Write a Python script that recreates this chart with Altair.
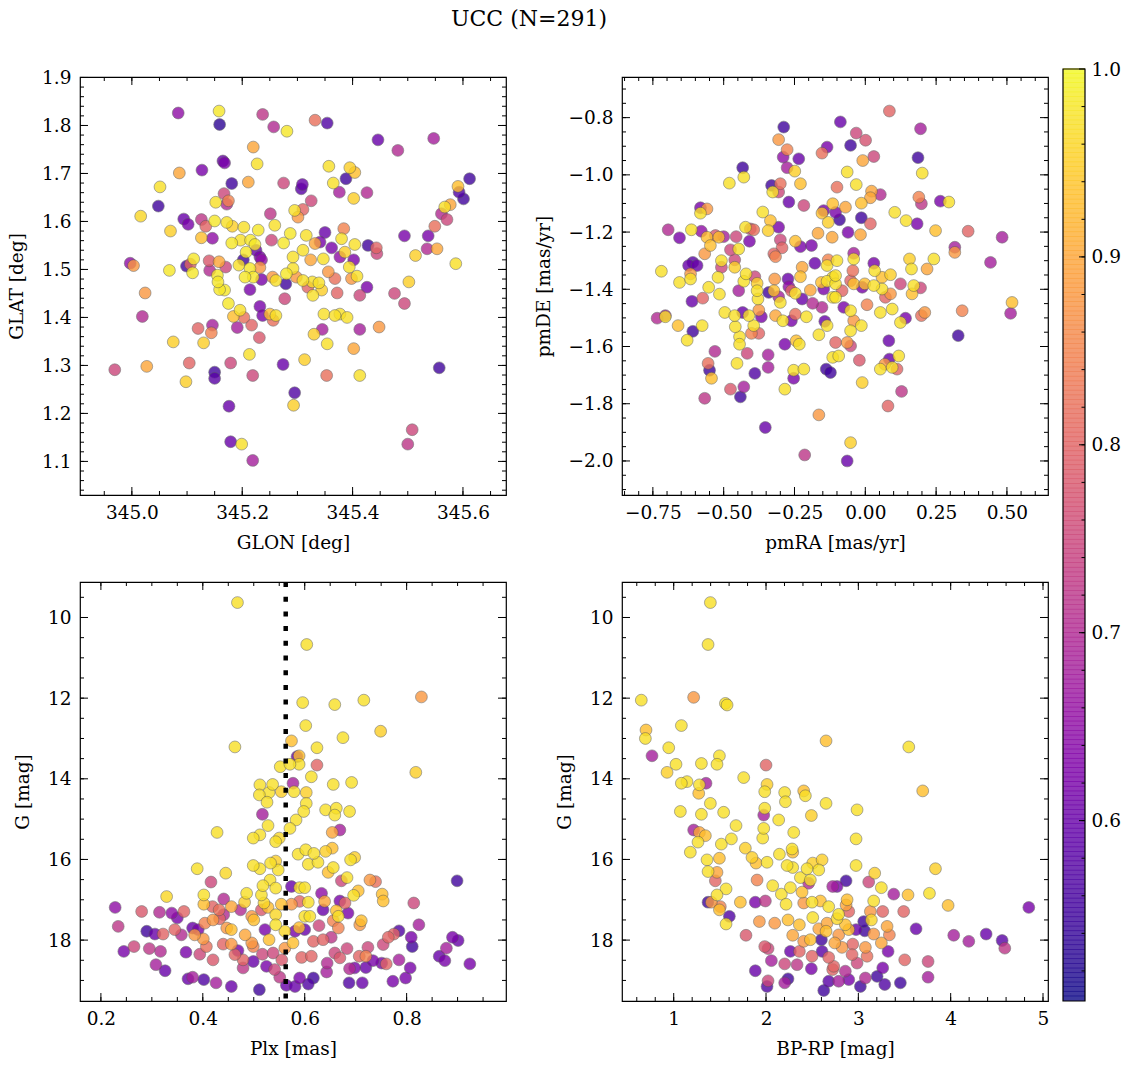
import altair as alt
import pandas as pd
import numpy as np

FONT = "DejaVu Serif"
CMIN, CMAX = 0.504, 1.0
PW = 426            # panel plot width
H_TOP, H_BOT = 418, 419
CB_GAP, CB_W = 15, 22
CB_TOP, CB_BOT = -8, 924   # colorbar extent relative to the top-right panel's plot area
MAJ, MIN = 8, 4     # tick lengths

# ---------------- data: (x, y, membership probability) per panel ----------------
# Top-left: GLON [deg], GLAT [deg]
tl_points = [
(345.084,1.826,0.65),(345.158,1.830,0.98),(345.159,1.802,0.53),(345.237,1.823,0.72),(345.257,1.797,0.70),
(345.281,1.788,0.98),(345.220,1.755,0.90),(345.227,1.720,0.97),(345.165,1.726,0.60),(345.168,1.722,0.62),
(345.086,1.701,0.90),(345.127,1.707,0.62),(345.211,1.682,0.90),(345.275,1.680,0.75),(345.051,1.672,0.97),
(345.181,1.679,0.55),(345.167,1.658,0.75),(345.175,1.643,0.85),(345.152,1.640,0.97),(345.172,1.636,0.70),
(345.048,1.632,0.55),(345.016,1.611,0.96),(345.094,1.605,0.60),(345.102,1.594,0.62),(345.126,1.604,0.72),
(345.134,1.590,0.80),(345.150,1.601,0.98),(345.172,1.598,0.97),(345.182,1.590,0.95),(345.070,1.580,0.95),
(345.126,1.566,0.93),(345.146,1.565,0.65),(345.203,1.588,0.97),(345.229,1.582,0.98),(345.251,1.616,0.72),
(345.259,1.592,0.97),(345.181,1.555,0.98),(345.197,1.561,0.97),(345.215,1.561,0.98),(345.223,1.552,0.98),
(345.207,1.536,0.98),(345.225,1.540,0.60),(345.232,1.526,0.62),(345.253,1.561,0.75),(345.275,1.555,0.98),
(345.287,1.575,0.98),(344.997,1.513,0.65),(345.003,1.508,0.88),(345.112,1.522,0.98),(345.099,1.507,0.55),
(345.106,1.511,0.80),(345.110,1.493,0.98),(345.068,1.498,0.98),(345.140,1.518,0.78),(345.141,1.498,0.70),
(345.158,1.516,0.90),(345.170,1.505,0.75),(345.155,1.488,0.98),(345.156,1.474,0.98),(345.159,1.458,0.98),
(345.168,1.457,0.98),(345.202,1.520,0.55),(345.194,1.509,0.97),(345.214,1.502,0.98),(345.232,1.504,0.88),
(345.235,1.520,0.65),(345.205,1.484,0.98),(345.220,1.484,0.98),(345.235,1.479,0.62),(345.214,1.458,0.62),
(345.255,1.484,0.88),(345.261,1.477,0.97),(345.280,1.491,0.98),(345.279,1.470,0.55),(345.277,1.439,0.75),
(345.175,1.429,0.98),(345.196,1.415,0.97),(345.184,1.402,0.93),(345.203,1.400,0.82),(345.217,1.384,0.80),
(345.232,1.423,0.62),(345.237,1.404,0.62),(345.250,1.407,0.93),(345.261,1.404,0.97),(345.256,1.394,0.82),
(345.191,1.379,0.68),(345.146,1.384,0.68),(345.144,1.368,0.85),(345.120,1.377,0.80),(345.019,1.402,0.70),
(345.024,1.451,0.88),(345.075,1.349,0.95),(345.130,1.347,0.95),(345.231,1.358,0.78),(345.213,1.323,0.97),
(344.969,1.291,0.75),(345.027,1.298,0.90),(345.104,1.305,0.80),(345.179,1.305,0.75),(345.150,1.286,0.55),
(345.150,1.273,0.58),(345.219,1.279,0.75),(345.274,1.302,0.60),(345.098,1.266,0.95),(345.176,1.215,0.60),
(345.179,1.141,0.60),(345.199,1.136,0.97),(345.219,1.102,0.68),
(345.332,1.811,0.82),(345.354,1.805,0.57),(345.446,1.770,0.60),(345.482,1.748,0.70),(345.547,1.773,0.68),
(345.357,1.715,0.97),(345.395,1.712,0.95),(345.404,1.702,0.93),(345.388,1.689,0.55),(345.365,1.680,0.97),
(345.376,1.661,0.68),(345.402,1.648,0.95),(345.426,1.660,0.70),(345.309,1.677,0.60),(345.307,1.668,0.58),
(345.325,1.643,0.75),(345.295,1.623,0.97),(345.310,1.625,0.80),(345.301,1.609,0.88),(345.316,1.571,0.97),
(345.350,1.577,0.60),(345.341,1.557,0.62),(345.332,1.554,0.90),(345.384,1.585,0.85),(345.380,1.564,0.97),
(345.404,1.552,0.97),(345.428,1.550,0.55),(345.443,1.545,0.80),(345.444,1.533,0.75),(345.494,1.570,0.62),
(345.537,1.570,0.62),(345.535,1.543,0.70),(345.553,1.543,0.90),(345.514,1.529,0.95),(345.549,1.590,0.82),
(345.561,1.616,0.70),(345.571,1.604,0.75),(345.567,1.630,0.97),(345.577,1.635,0.90),(345.591,1.673,0.93),
(345.593,1.661,0.57),(345.612,1.689,0.55),(345.601,1.647,0.55),(345.587,1.512,0.97),(345.502,1.474,0.95),
(345.476,1.450,0.75),(345.494,1.429,0.75),(345.426,1.463,0.62),(345.413,1.446,0.75),(345.372,1.451,0.80),
(345.368,1.481,0.82),(345.356,1.495,0.88),(345.398,1.481,0.88),(345.394,1.505,0.97),(345.408,1.486,0.97),
(345.386,1.536,0.95),(345.377,1.526,0.65),(345.402,1.520,0.62),(345.362,1.545,0.62),(345.347,1.522,0.97),
(345.324,1.520,0.90),(345.310,1.540,0.97),(345.292,1.526,0.97),(345.292,1.502,0.97),(345.310,1.477,0.97),
(345.327,1.474,0.97),(345.339,1.472,0.97),(345.328,1.446,0.97),(345.344,1.457,0.95),(345.298,1.484,0.88),
(345.319,1.463,0.80),(345.348,1.407,0.97),(345.368,1.404,0.97),(345.377,1.407,0.97),(345.390,1.400,0.97),
(345.345,1.375,0.68),(345.330,1.365,0.95),(345.354,1.345,0.97),(345.413,1.375,0.68),(345.448,1.380,0.88),
(345.402,1.335,0.90),(345.313,1.312,0.95),(345.353,1.279,0.82),(345.413,1.279,0.97),(345.557,1.295,0.55),
(345.295,1.243,0.57),(345.293,1.217,0.95),(345.508,1.166,0.75),(345.500,1.136,0.72),
]

# Top-right: pmRA, pmDE [mas/yr]
tr_points = [
(-0.288,-0.833,0.55),(-0.306,-0.877,0.88),(-0.276,-0.912,0.85),(-0.290,-0.938,0.65),(-0.235,-0.944,0.60),
(-0.276,-0.975,0.68),(-0.249,-0.987,0.95),(-0.135,-0.903,0.62),(-0.153,-0.924,0.82),(-0.433,-0.975,0.55),
(-0.429,-1.008,0.97),(-0.480,-1.029,0.97),(-0.331,-1.037,0.55),(-0.300,-1.031,0.82),(-0.327,-1.060,0.97),
(-0.306,-1.060,0.75),(-0.229,-1.031,0.93),(-0.270,-1.095,0.60),(-0.217,-1.107,0.75),(-0.582,-1.115,0.62),
(-0.559,-1.119,0.88),(-0.582,-1.134,0.97),(-0.362,-1.130,0.97),(-0.335,-1.160,0.93),(-0.306,-1.183,0.62),
(-0.343,-1.195,0.95),(-0.406,-1.189,0.75),(-0.394,-1.192,0.82),(-0.423,-1.183,0.97),(-0.696,-1.192,0.70),
(-0.656,-1.220,0.62),(-0.614,-1.192,0.97),(-0.579,-1.197,0.65),(-0.559,-1.218,0.93),(-0.529,-1.212,0.78),
(-0.517,-1.218,0.93),(-0.500,-1.216,0.68),(-0.547,-1.247,0.93),(-0.567,-1.276,0.88),(-0.476,-1.262,0.75),
(-0.456,-1.216,0.75),(-0.409,-1.232,0.62),(-0.447,-1.259,0.97),(-0.300,-1.227,0.75),(-0.294,-1.255,0.80),
(-0.247,-1.232,0.93),(-0.229,-1.251,0.62),(-0.190,-1.247,0.62),(-0.167,-1.204,0.90),(-0.147,-1.125,0.62),
(-0.153,-1.134,0.93),(-0.131,-1.166,0.95),(-0.115,-1.101,0.93),(-0.117,-1.218,0.90),(-0.323,-1.276,0.80),
(-0.317,-1.286,0.85),(-0.178,-1.309,0.60),(-0.131,-1.297,0.85),(-0.135,-1.317,0.97),(-0.223,-1.323,0.90),
(-0.229,-1.356,0.93),(-0.320,-1.364,0.88),(-0.323,-1.405,0.93),(-0.341,-1.411,0.55),(-0.273,-1.364,0.60),
(-0.270,-1.391,0.65),(-0.247,-1.414,0.97),(-0.261,-1.405,0.80),(-0.194,-1.403,0.90),(-0.147,-1.399,0.62),
(-0.155,-1.376,0.93),(-0.135,-1.372,0.97),(-0.115,-1.358,0.97),(-0.115,-1.428,0.97),(-0.186,-1.449,0.70),
(-0.223,-1.434,0.60),(-0.153,-1.463,0.70),(-0.300,-1.446,0.97),(-0.306,-1.426,0.68),(-0.247,-1.487,0.82),
(-0.208,-1.496,0.97),(-0.261,-1.510,0.62),(-0.291,-1.510,0.97),(-0.317,-1.492,0.90),(-0.376,-1.473,0.88),
(-0.379,-1.434,0.97),(-0.382,-1.405,0.97),(-0.382,-1.379,0.95),(-0.390,-1.356,0.75),(-0.421,-1.346,0.97),
(-0.429,-1.372,0.97),(-0.447,-1.405,0.68),(-0.461,-1.323,0.95),(-0.461,-1.297,0.75),(-0.508,-1.300,0.97),
(-0.508,-1.323,0.75),(-0.520,-1.358,0.97),(-0.515,-1.417,0.97),(-0.553,-1.393,0.97),(-0.574,-1.431,0.80),
(-0.612,-1.442,0.60),(-0.624,-1.317,0.60),(-0.609,-1.306,0.58),(-0.594,-1.317,0.60),(-0.617,-1.346,0.88),
(-0.617,-1.364,0.97),(-0.656,-1.376,0.97),(-0.720,-1.337,0.97),(-0.735,-1.501,0.70),(-0.706,-1.492,0.68),
(-0.706,-1.496,0.97),(-0.661,-1.527,0.93),(-0.609,-1.547,0.55),(-0.629,-1.578,0.97),(-0.576,-1.527,0.97),
(-0.496,-1.481,0.97),(-0.461,-1.492,0.97),(-0.433,-1.481,0.60),(-0.411,-1.492,0.97),(-0.367,-1.496,0.62),
(-0.459,-1.531,0.97),(-0.394,-1.527,0.97),(-0.402,-1.554,0.85),(-0.376,-1.554,0.80),(-0.444,-1.566,0.97),
(-0.444,-1.592,0.97),(-0.531,-1.617,0.70),(-0.555,-1.659,0.82),(-0.550,-1.683,0.55),(-0.543,-1.711,0.93),
(-0.417,-1.624,0.75),(-0.453,-1.659,0.97),(-0.390,-1.694,0.57),(-0.343,-1.629,0.68),(-0.343,-1.673,0.68),
(-0.284,-1.592,0.62),(-0.244,-1.580,0.93),(-0.233,-1.592,0.97),(-0.253,-1.683,0.97),(-0.217,-1.679,0.97),
(-0.253,-1.711,0.62),(-0.138,-1.679,0.55),(-0.123,-1.691,0.55),(-0.115,-1.638,0.97),(-0.164,-1.559,0.97),
(-0.135,-1.527,0.97),(-0.143,-1.512,0.60),(-0.476,-1.749,0.78),(-0.429,-1.741,0.68),(-0.441,-1.776,0.55),
(-0.567,-1.781,0.72),(-0.284,-1.749,0.97),(-0.164,-1.839,0.88),(-0.353,-1.883,0.60),(-0.214,-1.979,0.72),
(0.085,-0.777,0.80),(-0.088,-0.815,0.60),(0.195,-0.839,0.68),(-0.032,-0.854,0.75),(0.001,-0.879,0.77),
(-0.052,-0.897,0.55),(0.030,-0.936,0.75),(-0.009,-0.950,0.90),(0.186,-0.940,0.55),(0.201,-0.994,0.97),
(-0.064,-0.990,0.97),(-0.032,-1.034,0.97),(-0.100,-1.043,0.82),(0.022,-1.057,0.90),(0.053,-1.069,0.70),
(0.018,-1.080,0.90),(-0.014,-1.099,0.93),(-0.070,-1.113,0.90),(-0.105,-1.131,0.62),(-0.091,-1.157,0.55),
(-0.014,-1.150,0.55),(0.018,-1.171,0.80),(-0.061,-1.201,0.62),(-0.017,-1.209,0.90),(0.104,-1.131,0.97),
(0.144,-1.160,0.97),(0.183,-1.171,0.62),(0.189,-1.078,0.85),(0.198,-1.101,0.72),(0.265,-1.092,0.62),
(0.295,-1.095,0.97),(0.248,-1.195,0.93),(0.363,-1.197,0.80),(0.483,-1.218,0.68),(0.316,-1.253,0.68),
(0.316,-1.271,0.88),(0.442,-1.306,0.68),(-0.041,-1.274,0.68),(-0.041,-1.294,0.97),(-0.100,-1.300,0.97),
(0.030,-1.309,0.62),(0.033,-1.335,0.97),(-0.044,-1.335,0.82),(-0.052,-1.370,0.80),(-0.041,-1.381,0.93),
(-0.105,-1.352,0.97),(-0.105,-1.381,0.97),(-0.082,-1.405,0.80),(-0.105,-1.428,0.97),(-0.011,-1.393,0.62),
(-0.002,-1.381,0.93),(0.030,-1.387,0.97),(0.059,-1.358,0.93),(0.059,-1.399,0.97),(0.089,-1.349,0.95),
(0.071,-1.428,0.80),(0.089,-1.416,0.88),(0.124,-1.381,0.75),(0.156,-1.294,0.95),(0.163,-1.329,0.97),
(0.218,-1.329,0.90),(0.242,-1.294,0.97),(0.171,-1.387,0.97),(0.195,-1.395,0.75),(0.165,-1.416,0.93),
(0.006,-1.454,0.85),(-0.076,-1.463,0.62),(-0.052,-1.475,0.97),(-0.041,-1.510,0.88),(-0.052,-1.545,0.97),
(-0.014,-1.527,0.97),(0.053,-1.481,0.97),(0.095,-1.469,0.97),(0.142,-1.501,0.62),(0.124,-1.516,0.97),
(0.198,-1.492,0.82),(0.210,-1.481,0.88),(0.342,-1.475,0.85),(0.518,-1.446,0.93),(0.513,-1.484,0.68),
(0.328,-1.562,0.55),(0.083,-1.580,0.60),(-0.105,-1.586,0.80),(-0.064,-1.586,0.88),(-0.052,-1.598,0.75),
(-0.094,-1.633,0.97),(-0.021,-1.648,0.78),(0.085,-1.644,0.60),(0.118,-1.633,0.97),(0.053,-1.679,0.97),
(0.069,-1.662,0.88),(0.095,-1.673,0.97),(0.112,-1.679,0.80),(-0.011,-1.726,0.95),(0.128,-1.757,0.72),
(0.080,-1.808,0.80),(-0.052,-1.936,0.95),(-0.064,-2.000,0.60),
]

# Bottom-left: Plx [mas], G [mag]
bl_points = [
(0.468,9.63,0.97),(0.463,13.21,0.97),(0.428,15.33,0.97),(0.552,13.70,0.97),(0.512,14.15,0.97),
(0.537,14.14,0.97),(0.511,14.40,0.97),(0.530,14.34,0.97),(0.526,14.58,0.97),(0.554,14.32,0.95),
(0.517,14.88,0.68),(0.528,15.16,0.97),(0.499,15.47,0.97),(0.512,15.39,0.97),(0.543,15.56,0.97),
(0.550,15.47,0.96),(0.499,16.15,0.97),(0.512,16.23,0.97),(0.533,16.09,0.97),(0.543,16.04,0.95),
(0.548,16.26,0.97),(0.532,16.51,0.97),(0.518,16.65,0.97),(0.543,16.71,0.97),(0.515,16.88,0.97),
(0.520,17.08,0.96),(0.528,17.19,0.93),(0.554,17.11,0.93),(0.389,16.23,0.97),(0.445,16.34,0.96),
(0.416,16.56,0.75),(0.329,16.92,0.96),(0.402,16.88,0.97),(0.402,17.11,0.93),(0.486,16.84,0.97),
(0.482,17.06,0.95),(0.441,16.98,0.70),(0.456,17.17,0.90),(0.474,17.25,0.70),(0.419,17.17,0.80),
(0.432,17.25,0.82),(0.228,17.19,0.65),(0.280,17.29,0.78),(0.315,17.31,0.70),(0.339,17.33,0.65),
(0.363,17.29,0.80),(0.350,17.45,0.62),(0.234,17.66,0.72),(0.290,17.78,0.55),(0.306,17.85,0.60),
(0.322,17.85,0.80),(0.345,17.74,0.80),(0.358,17.87,0.70),(0.380,17.70,0.60),(0.384,17.87,0.88),
(0.391,17.74,0.62),(0.404,17.58,0.85),(0.420,17.50,0.88),(0.441,17.37,0.70),(0.433,17.47,0.80),
(0.496,17.41,0.88),(0.500,17.50,0.93),(0.447,17.70,0.88),(0.456,17.74,0.93),(0.483,17.87,0.90),
(0.401,17.97,0.88),(0.407,18.16,0.82),(0.245,18.28,0.62),(0.265,18.16,0.75),(0.295,18.21,0.72),
(0.317,18.28,0.70),(0.367,18.30,0.62),(0.394,18.35,0.75),(0.420,18.49,0.78),(0.440,18.10,0.80),
(0.456,18.10,0.88),(0.469,18.26,0.62),(0.463,18.36,0.80),(0.496,18.07,0.88),(0.499,18.16,0.85),
(0.517,18.35,0.75),(0.308,18.61,0.68),(0.326,18.76,0.60),(0.371,18.96,0.60),(0.380,18.92,0.68),
(0.402,18.98,0.57),(0.426,19.06,0.68),(0.456,19.15,0.60),(0.479,18.69,0.72),(0.499,18.53,0.60),
(0.511,19.23,0.55),(0.525,18.65,0.62),(0.538,18.32,0.75),(0.541,18.73,0.75),(0.551,18.92,0.72),
(0.555,18.49,0.78),(0.522,17.74,0.62),(0.530,17.99,0.93),(0.543,17.62,0.97),(0.543,17.37,0.96),
(0.561,17.78,0.96),(0.561,18.20,0.88),(0.564,19.12,0.60),(0.479,18.49,0.80),(0.515,17.25,0.78),
(0.604,10.67,0.97),(0.596,12.11,0.97),(0.659,12.16,0.97),(0.716,12.05,0.97),(0.829,11.97,0.88),
(0.602,12.68,0.97),(0.749,12.82,0.95),(0.675,12.98,0.97),(0.574,13.06,0.93),(0.624,13.23,0.97),
(0.589,13.43,0.93),(0.585,13.45,0.60),(0.589,13.64,0.97),(0.571,13.64,0.97),(0.624,13.66,0.80),
(0.818,13.84,0.95),(0.613,13.95,0.97),(0.577,14.11,0.68),(0.579,14.32,0.97),(0.603,14.34,0.95),
(0.656,14.14,0.97),(0.692,14.09,0.97),(0.603,14.61,0.97),(0.598,14.81,0.97),(0.641,14.77,0.97),
(0.662,14.73,0.97),(0.659,14.90,0.97),(0.688,14.81,0.97),(0.583,15.02,0.97),(0.571,15.23,0.97),
(0.654,15.33,0.90),(0.669,15.27,0.68),(0.587,15.87,0.97),(0.602,15.76,0.97),(0.618,15.85,0.97),
(0.607,16.12,0.97),(0.626,16.07,0.97),(0.641,15.80,0.95),(0.654,15.72,0.93),(0.690,16.01,0.97),
(0.698,15.95,0.95),(0.656,16.20,0.97),(0.646,16.32,0.93),(0.683,16.45,0.97),(0.672,16.53,0.75),
(0.728,16.51,0.88),(0.739,16.55,0.82),(0.705,16.78,0.93),(0.696,16.89,0.97),(0.752,16.86,0.93),
(0.754,17.03,0.93),(0.574,16.67,0.60),(0.590,16.70,0.97),(0.600,16.70,0.97),(0.633,16.84,0.65),
(0.639,17.04,0.90),(0.607,17.06,0.97),(0.590,17.04,0.80),(0.574,17.11,0.88),(0.669,17.03,0.62),
(0.679,17.08,0.80),(0.662,17.27,0.93),(0.666,17.41,0.97),(0.685,17.33,0.62),(0.656,17.52,0.85),
(0.666,17.70,0.85),(0.636,17.25,0.60),(0.711,17.52,0.93),(0.708,17.62,0.88),(0.814,17.08,0.75),
(0.824,17.62,0.68),(0.899,16.53,0.55),(0.600,17.41,0.97),(0.610,17.41,0.97),(0.589,17.69,0.93),
(0.581,17.78,0.62),(0.600,17.74,0.60),(0.628,17.64,0.75),(0.577,18.07,0.93),(0.617,18.03,0.80),
(0.636,17.99,0.80),(0.652,17.93,0.72),(0.775,17.85,0.80),(0.785,17.77,0.57),(0.809,17.93,0.62),
(0.811,18.16,0.55),(0.764,17.93,0.80),(0.878,18.20,0.68),(0.890,17.93,0.62),(0.901,18.01,0.60),
(0.864,18.40,0.60),(0.875,18.51,0.62),(0.924,18.59,0.62),(0.594,18.43,0.80),(0.613,18.40,0.80),
(0.644,18.57,0.70),(0.659,18.32,0.75),(0.669,18.44,0.78),(0.683,18.21,0.75),(0.707,18.40,0.80),
(0.720,18.40,0.85),(0.724,18.18,0.75),(0.734,18.51,0.62),(0.751,18.57,0.62),(0.760,18.59,0.80),
(0.754,18.11,0.75),(0.785,18.49,0.68),(0.807,18.69,0.62),(0.798,18.94,0.62),(0.773,19.02,0.62),
(0.713,19.06,0.60),(0.687,19.06,0.57),(0.643,18.79,0.68),(0.688,18.71,0.70),(0.698,18.69,0.62),
(0.720,18.68,0.60),(0.590,18.94,0.62),(0.617,18.94,0.55),(0.607,19.09,0.57),(0.581,19.15,0.60),
]

# Bottom-right: BP-RP [mag], G [mag]
br_points = [
(1.397,9.63,0.97),(1.372,10.67,0.97),(0.649,12.05,0.97),(1.216,11.98,0.88),(1.560,12.13,0.97),
(1.578,12.17,0.97),(0.700,12.79,0.93),(0.693,13.00,0.97),(1.083,12.68,0.97),(0.765,13.43,0.68),
(0.946,13.23,0.97),(1.025,13.64,0.97),(0.928,13.84,0.95),(1.300,13.62,0.97),(1.469,13.64,0.97),
(1.495,13.43,0.97),(1.083,14.11,0.97),(1.144,14.07,0.97),(1.278,14.15,0.97),(1.350,14.11,0.68),
(1.271,14.36,0.93),(1.758,13.97,0.97),(2.000,13.66,0.80),(2.011,14.14,0.95),(1.986,14.32,0.97),
(2.202,14.34,0.97),(2.210,14.57,0.97),(2.408,14.30,0.93),(2.426,14.42,0.97),(2.650,13.06,0.93),
(2.650,14.61,0.97),(2.491,14.91,0.95),(1.986,14.73,0.97),(1.975,14.90,0.68),(1.397,14.61,0.97),
(1.300,14.88,0.97),(1.541,14.83,0.97),(1.072,14.81,0.97),(1.216,15.27,0.68),(1.278,15.33,0.90),
(1.343,15.41,0.93),(1.263,15.57,0.97),(1.180,15.82,0.97),(1.675,15.16,0.97),(1.625,15.49,0.97),
(1.516,15.62,0.97),(1.975,15.23,0.97),(1.964,15.47,0.97),(2.137,15.02,0.97),(2.300,15.33,0.97),
(1.776,15.72,0.95),(1.848,15.95,0.95),(1.892,16.09,0.93),(2.011,16.07,0.97),(2.145,15.87,0.97),
(2.282,15.74,0.97),(2.289,15.82,0.93),(2.228,16.15,0.97),(2.289,16.20,0.97),(2.444,16.23,0.97),
(2.506,16.09,0.95),(2.607,16.01,0.95),(2.571,16.26,0.97),(2.480,16.51,0.97),(2.372,16.45,0.97),
(2.462,16.59,0.70),(1.361,16.01,0.97),(1.495,15.97,0.93),(1.372,16.30,0.97),(1.469,16.32,0.90),
(1.451,16.53,0.80),(1.567,16.73,0.97),(1.469,16.88,0.97),(1.372,17.06,0.55),(1.408,17.06,0.88),
(1.505,17.17,0.85),(1.495,17.25,0.93),(1.603,17.41,0.57),(1.567,17.60,0.97),(1.903,16.51,0.85),
(1.722,17.06,0.93),(1.884,17.06,0.62),(1.993,17.03,0.72),(2.072,16.65,0.97),(2.166,16.86,0.97),
(2.217,17.11,0.97),(2.264,16.70,0.97),(2.390,16.81,0.93),(2.408,17.08,0.88),(2.498,17.06,0.97),
(2.589,17.03,0.93),(2.679,17.17,0.97),(2.722,16.67,0.68),(1.928,17.54,0.88),(2.094,17.58,0.88),
(2.238,17.50,0.93),(2.361,17.62,0.93),(2.506,17.44,0.97),(2.571,17.72,0.90),(2.661,17.58,0.90),
(1.783,17.88,0.78),(2.289,17.88,0.90),(2.408,18.03,0.88),(2.480,17.99,0.93),(2.600,17.99,0.55),
(2.650,17.78,0.93),(1.986,18.16,0.78),(2.022,18.21,0.75),(2.058,18.51,0.68),(2.264,18.28,0.60),
(2.361,18.28,0.80),(2.498,18.40,0.80),(2.607,18.28,0.58),(2.679,18.43,0.80),(2.202,18.59,0.75),
(2.336,18.61,0.72),(2.491,18.71,0.62),(1.884,18.76,0.60),(2.022,19.01,0.75),(2.011,19.15,0.57),
(2.202,19.06,0.68),(2.238,18.96,0.55),(2.625,19.25,0.55),(2.679,19.02,0.58),(2.722,18.73,0.80),
(3.546,13.21,0.97),(3.697,14.30,0.93),(2.986,14.77,0.97),(2.975,15.49,0.97),(2.975,16.15,0.97),
(3.177,16.34,0.95),(3.835,16.23,0.95),(2.867,16.53,0.55),(2.769,16.67,0.62),(3.112,16.56,0.75),
(3.249,16.70,0.97),(3.383,16.86,0.68),(3.538,16.88,0.93),(3.770,16.84,0.97),(3.972,17.14,0.93),
(4.846,17.19,0.62),(3.166,17.03,0.97),(2.878,17.00,0.93),(2.867,17.13,0.90),(2.787,17.36,0.97),
(2.769,17.47,0.96),(2.896,17.29,0.80),(3.130,17.29,0.88),(3.264,17.29,0.80),(3.491,17.29,0.80),
(3.141,17.50,0.96),(3.058,17.54,0.55),(3.069,17.77,0.55),(2.896,17.74,0.93),(2.975,17.74,0.60),
(3.311,17.66,0.90),(3.336,17.87,0.85),(3.166,17.85,0.88),(3.625,17.72,0.60),(4.033,17.88,0.68),
(4.196,18.03,0.68),(4.384,17.85,0.60),(4.557,18.01,0.58),(4.586,18.20,0.72),(2.744,18.07,0.90),
(2.823,18.18,0.88),(2.939,18.10,0.80),(3.076,18.18,0.88),(3.249,18.07,0.90),(3.322,18.28,0.62),
(3.094,18.40,0.82),(2.986,18.57,0.75),(2.932,18.36,0.80),(2.859,18.77,0.70),(2.733,18.65,0.80),
(2.787,19.02,0.68),(2.896,18.98,0.62),(3.022,19.15,0.55),(3.076,18.94,0.70),(3.203,18.90,0.55),
(3.264,18.69,0.62),(3.286,19.10,0.57),(3.455,19.06,0.55),(3.502,18.49,0.80),(3.755,18.53,0.75),
(3.755,18.92,0.68),(2.787,17.87,0.88),(2.859,17.62,0.93),
]

plx_reference = [0.5627]   # dotted vertical line in the Plx panel

# axis ticks
tl_x_major = [345.0, 345.2, 345.4, 345.6]
tl_x_minor = [round(344.95 + 0.05 * i, 2) for i in range(15)]
tl_y_major = [1.1, 1.2, 1.3, 1.4, 1.5, 1.6, 1.7, 1.8, 1.9]
tl_y_minor = [round(1.04 + 0.02 * i, 2) for i in range(44)]
tr_x_major = [-0.75, -0.5, -0.25, 0.0, 0.25, 0.5]
tr_x_minor = [round(-0.85 + 0.05 * i, 2) for i in range(30)]
tr_y_major = [-2.0, -1.8, -1.6, -1.4, -1.2, -1.0, -0.8]
tr_y_minor = [round(-2.1 + 0.05 * i, 2) for i in range(29)]
bl_x_major = [0.2, 0.4, 0.6, 0.8]
bl_x_minor = [round(0.2 + 0.05 * i, 2) for i in range(16)]
g_major = [10, 12, 14, 16, 18]
g_minor = [9.5 + 0.5 * i for i in range(20)]
br_x_major = [1, 2, 3, 4, 5]
br_x_minor = [round(0.6 + 0.2 * i, 1) for i in range(23)]
cb_major = [0.6, 0.7, 0.8, 0.9, 1.0]
cb_minor = [round(0.52 + 0.02 * i, 2) for i in range(24)]

color_scale = alt.Scale(scheme="plasma", domain=[CMIN, CMAX])


def make_df(points):
    df = pd.DataFrame(points, columns=["x", "y", "p"])
    return df.sort_values("p").reset_index(drop=True)


def colorbar_layers():
    """Colorbar drawn next to the top-right panel, spanning both rows."""
    cb_scale = alt.Scale(domain=[CMIN, CMAX], range=[CB_BOT, CB_TOP], nice=False, zero=False)
    x0, x1 = PW + CB_GAP, PW + CB_GAP + CB_W
    levels = np.linspace(CMIN, CMAX, 201)
    cb_df = pd.DataFrame({"v": levels[:-1], "v2": levels[1:] + 0.0004})
    cby_axis = alt.Y("v:Q", scale=cb_scale, title=None,
                     axis=alt.Axis(orient="right", offset=CB_GAP + CB_W, values=cb_major,
                                   format=".1f", ticks=False, domain=False, grid=False,
                                   labelPadding=6, labelFlush=False, labelOverlap=False))
    cby = alt.Y("v:Q", scale=cb_scale, axis=None)
    rect = alt.Chart(cb_df).mark_rect(opacity=0.8).encode(
        y=cby_axis, y2="v2:Q", x=alt.value(x0), x2=alt.value(x1),
        color=alt.Color("v:Q", scale=color_scale, legend=None))
    frame = alt.Chart(pd.DataFrame({"v": [CMIN], "v2": [CMAX]})).mark_rect(
        fillOpacity=0, stroke="black", strokeWidth=1.2).encode(
        y=cby, y2="v2:Q", x=alt.value(x0), x2=alt.value(x1))
    tmaj = alt.Chart(pd.DataFrame({"v": cb_major})).mark_rule(color="black").encode(
        y=cby, x=alt.value(x1), x2=alt.value(x1 - 6))
    tmin = alt.Chart(pd.DataFrame({"v": cb_minor})).mark_rule(color="black").encode(
        y=cby, x=alt.value(x1), x2=alt.value(x1 - 3.5))
    return [rect, frame, tmaj, tmin]


def panel(points, xdom, ydom, xmaj, xmin, ymaj, ymin, xfmt, yfmt, xtitle, ytitle,
          h, yrev=False, vline=None, with_colorbar=False):
    df = make_df(points)
    xs = alt.Scale(domain=xdom, nice=False, zero=False)
    ys = alt.Scale(domain=ydom, nice=False, zero=False, reverse=yrev)
    xax = alt.Axis(orient="bottom", values=xmaj, format=xfmt, ticks=False,
                   domain=False, grid=False, labelPadding=8, titlePadding=12,
                   labelFlush=False, labelOverlap=False)
    yax = alt.Axis(orient="left", values=ymaj, format=yfmt, ticks=False,
                   domain=False, grid=False, labelPadding=9, titlePadding=15,
                   labelFlush=False, labelOverlap=False)
    X = alt.X("x:Q", scale=xs, title=xtitle, axis=xax)
    Y = alt.Y("y:Q", scale=ys, title=ytitle, axis=yax)
    # x is always shared between layers: every layer repeats the same axis definition.
    # y is independent only in the panel that also carries the colorbar.
    Yt = alt.Y("y:Q", scale=ys, axis=None) if with_colorbar else Y

    pts = alt.Chart(df).mark_circle(size=140, opacity=0.8, stroke="#555555",
                                    strokeWidth=0.6, clip=True).encode(
        x=X, y=Y, color=alt.Color("p:Q", scale=color_scale, legend=None))

    layers = [pts]
    if vline is not None:
        layers.append(
            alt.Chart(pd.DataFrame({"x": vline})).mark_rule(
                color="black", strokeWidth=4.5, strokeDash=[5, 9.7]).encode(x=X))

    def xticks(vals, length):
        d = pd.DataFrame({"x": vals})
        bottom = alt.Chart(d).mark_rule(color="black", strokeWidth=1).encode(
            x=X, y=alt.value(h), y2=alt.value(h - length))
        top = alt.Chart(d).mark_rule(color="black", strokeWidth=1).encode(
            x=X, y=alt.value(0), y2=alt.value(length))
        return [bottom, top]

    def yticks(vals, length):
        d = pd.DataFrame({"y": vals})
        left = alt.Chart(d).mark_rule(color="black", strokeWidth=1).encode(
            y=Yt, x=alt.value(0), x2=alt.value(length))
        right = alt.Chart(d).mark_rule(color="black", strokeWidth=1).encode(
            y=Yt, x=alt.value(PW), x2=alt.value(PW - length))
        return [left, right]

    layers += xticks(xmaj, MAJ) + xticks(xmin, MIN) + yticks(ymaj, MAJ) + yticks(ymin, MIN)
    if with_colorbar:
        layers += colorbar_layers()
        return alt.layer(*layers).resolve_scale(y="independent").properties(
            width=PW, height=h)
    return alt.layer(*layers).properties(width=PW, height=h)


tl = panel(tl_points, [344.906, 345.678], [1.030, 1.901], tl_x_major, tl_x_minor,
           tl_y_major, tl_y_minor, ".1f", ".1f", "GLON [deg]", "GLAT [deg]", H_TOP)
tr = panel(tr_points, [-0.859, 0.645], [-2.119, -0.658], tr_x_major, tr_x_minor,
           tr_y_major, tr_y_minor, ".2f", ".1f", "pmRA [mas/yr]", "pmDE [mas/yr]", H_TOP,
           with_colorbar=True)
bl = panel(bl_points, [0.159, 0.995], [9.12, 19.51], bl_x_major, bl_x_minor,
           g_major, g_minor, ".1f", "d", "Plx [mas]", "G [mag]", H_BOT, yrev=True,
           vline=plx_reference)
br = panel(br_points, [0.44, 5.054], [9.12, 19.51], br_x_major, br_x_minor,
           g_major, g_minor, "d", "d", "BP-RP [mag]", "G [mag]", H_BOT, yrev=True)

chart = alt.concat(tl, tr, bl, br, columns=2, spacing={"row": 87, "column": 116},
                   bounds="flush").properties(
    title=alt.TitleParams("UCC (N=291)", font=FONT, fontSize=22, fontWeight="normal",
                          anchor="middle", dx=-35, offset=28, color="black"),
    padding={"left": 6, "top": 8, "right": 5, "bottom": 5},
    background="white",
).configure_view(stroke="black", strokeWidth=1.2).configure_axis(
    labelFont=FONT, titleFont=FONT, labelFontSize=18.5, titleFontSize=18.5,
    titleFontWeight="normal", labelColor="black", titleColor="black", grid=False,
)

chart.save("out.html", embed_options={"renderer": "svg", "actions": False})
